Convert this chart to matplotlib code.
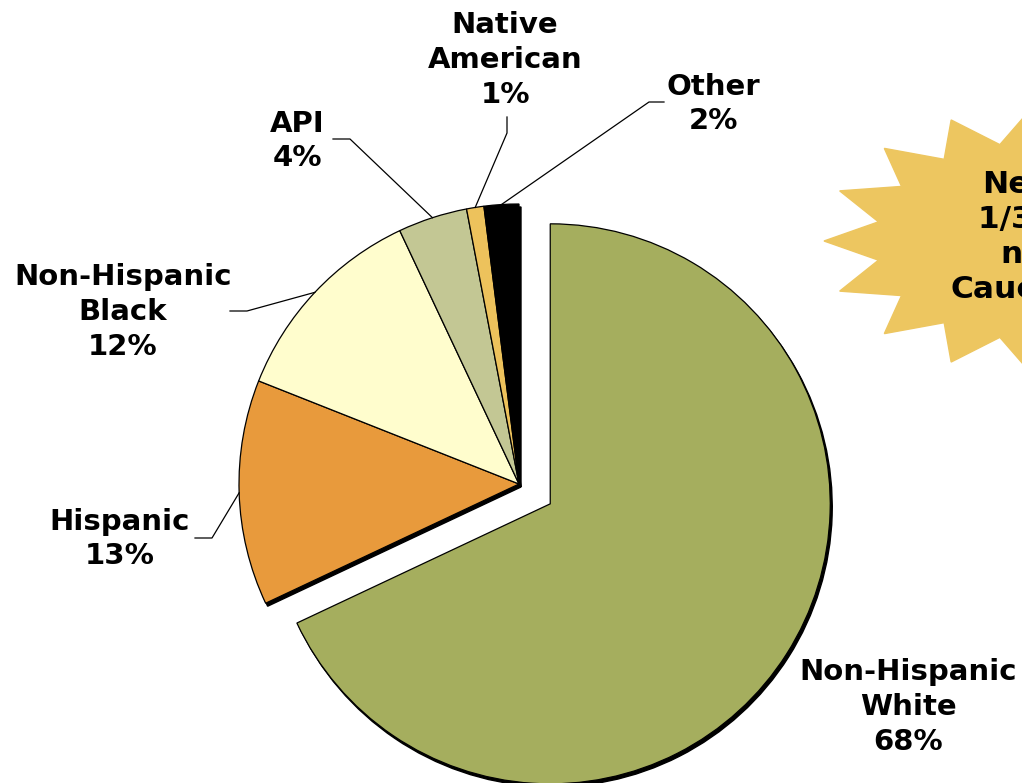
import numpy as np
import matplotlib
matplotlib.use("Agg")
import matplotlib.pyplot as plt

# Data
groups = ["Non-Hispanic\nWhite", "Hispanic", "Non-Hispanic\nBlack", "API", "Native\nAmerican", "Other"]
shares = [68, 13, 12, 4, 1, 2]
colours = ["#A5AE5E", "#E89A3C", "#FFFDCD", "#C3C794", "#EDC25C", "#000000"]

# Layout in pixel units (y axis points down, like the picture)
centre = (519, 484)
radius = 280
explode = [37, 0, 0, 0, 0, 0]  # pie() takes the explode offset in data units
label_pos = [(908, 707), (120, 539), (123, 312), (297, 141), (505, 60), (713, 104)]
elbows = [None, [(195, 538), (212, 538)], [(230, 311), (247, 311)],
          [(333, 139), (350, 139)], [(507, 117), (507, 133)], [(664, 102), (649, 102)]]

fig = plt.figure(figsize=(10.22, 7.83), dpi=100)
ax = fig.add_axes([0, 0, 1, 1])

# y is flipped, so counterclock=True from -90 runs clockwise from 12 o'clock on screen
shadow = ax.pie(shares, colors=["black"] * len(shares), explode=explode, startangle=-90,
                counterclock=True, radius=radius, center=(centre[0] + 2, centre[1] + 3),
                wedgeprops=dict(edgecolor="black", linewidth=1))
wedges, _ = ax.pie(shares, colors=colours, explode=explode, startangle=-90,
                   counterclock=True, radius=radius, center=centre,
                   wedgeprops=dict(edgecolor="black", linewidth=0.9))

for w, name, share, pos, elbow in zip(wedges, groups, shares, label_pos, elbows):
    ax.text(pos[0], pos[1], f"{name}\n{share}%", ha="center", va="center",
            fontsize=21, fontweight="bold", linespacing=1.3, family="DejaVu Sans")
    if elbow is None:
        continue
    mid = np.deg2rad((w.theta1 + w.theta2) / 2)
    edge = (w.center[0] + w.r * np.cos(mid), w.center[1] + w.r * np.sin(mid))
    xs = [elbow[0][0], elbow[1][0], edge[0]]
    ys = [elbow[0][1], elbow[1][1], edge[1]]
    ax.plot(xs, ys, color="black", linewidth=0.9)

# Starburst callout on the right (mostly cut off by the picture edge)
n_points = 16
t = np.linspace(0, 2 * np.pi, 2 * n_points, endpoint=False) + np.pi
r = np.where(np.arange(2 * n_points) % 2 == 0, 1.0, 0.75)
star_x = 1030 + 206 * r * np.cos(t)
star_y = 241 + 131 * r * np.sin(t)
ax.fill(star_x, star_y, color="#EDC660", zorder=3)
ax.text(1040, 237, "Nearly\n1/3 are\nnon-\nCaucasian", ha="center", va="center",
        fontsize=22.5, fontweight="bold", linespacing=1.26, zorder=4)

ax.set_xlim(0, 1022)
ax.set_ylim(783, 0)
ax.set_aspect("equal")
ax.axis("off")

fig.savefig("out.png", dpi=100)
